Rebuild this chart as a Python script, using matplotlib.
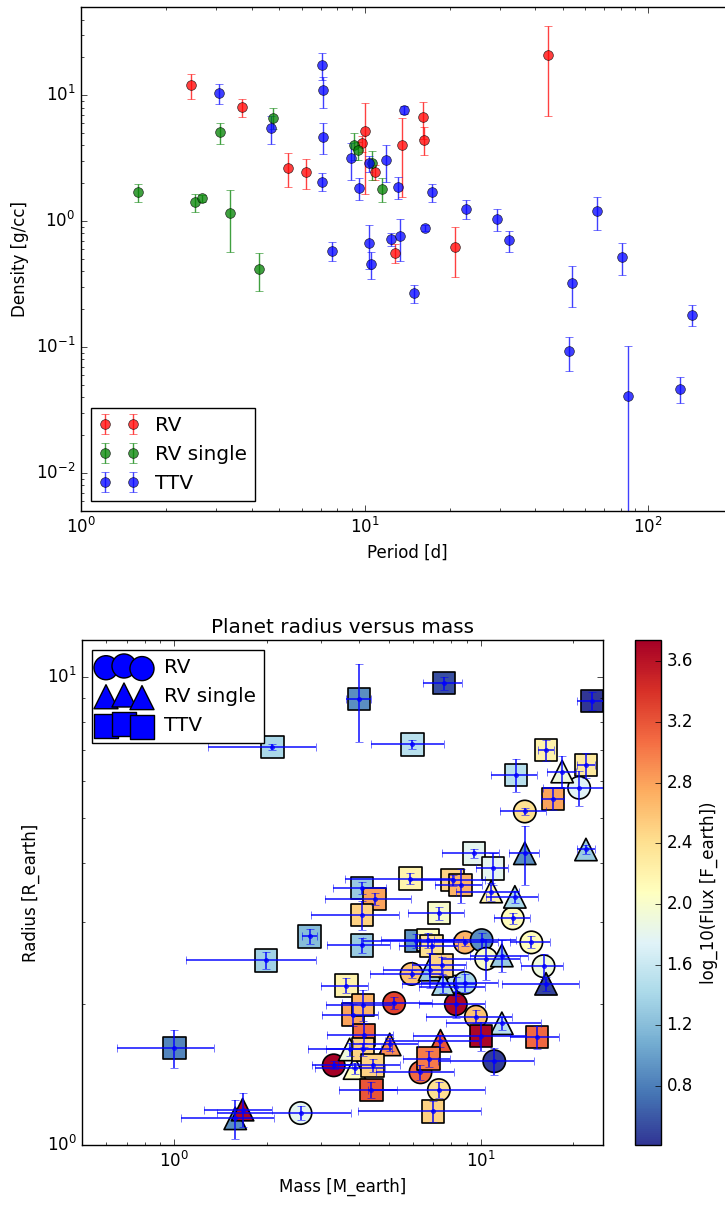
import numpy as np
import matplotlib
matplotlib.use("Agg")
import matplotlib.pyplot as plt
from matplotlib.colors import Normalize
from matplotlib.ticker import NullFormatter

plt.style.use('classic')
plt.rcParams['figure.facecolor'] = 'white'
plt.rcParams['savefig.facecolor'] = 'white'
plt.rcParams['mathtext.fontset'] = 'dejavusans'

# --- densidade x periodo (painel de cima) ---
rv_period = [2.44, 3.71, 5.39, 6.23, 10.06, 9.78, 10.9, 13.56, 16.1, 16.2, 44.5, 20.9, 12.8]
rv_density = [12.1, 8.09, 2.66, 2.47, 5.19, 4.15, 2.47, 4.07, 6.7, 4.46, 21.1, 0.63, 0.565]
rv_density_err = [2.8, 1.35, 0.8, 0.66, 3.55, 0.6, 0.33, 2.5, 2.2, 1.1, 14.2, 0.27, 0.1]

rvs_period = [1.59, 2.52, 2.67, 3.10, 3.35, 4.75, 4.26, 9.18, 9.46, 10.6, 11.5]
rvs_density = [1.71, 1.42, 1.52, 5.09, 1.17, 6.66, 0.42, 4.05, 3.67, 2.88, 1.81]
rvs_density_err = [0.28, 0.24, 0.1, 0.95, 0.6, 1.3, 0.14, 1.0, 0.6, 0.75, 0.4]

ttv_period = [3.07, 4.67, 7.10, 7.16, 7.16, 7.10, 13.8, 8.94, 10.4, 11.9, 9.59, 13.1,
              17.3, 22.7, 29.3, 32.2, 65.9, 16.3, 7.66, 10.35, 10.5, 12.4, 13.3, 14.9,
              54.1, 81, 143, 52.4, 85, 130]
ttv_density = [10.4, 5.52, 17.4, 10.95, 4.71, 2.07, 7.66, 3.16, 2.88, 3.04, 1.85, 1.88,
               1.71, 1.26, 1.04, 0.708, 1.21, 0.89, 0.584, 0.678, 0.457, 0.72, 0.76, 0.268,
               0.323, 0.52, 0.181, 0.093, 0.041, 0.047]
ttv_density_err = [1.9, 1.4, 4.2, 3.0, 1.28, 0.33, 0.5, 1.02, 0.4, 0.98, 0.37, 0.38,
                   0.28, 0.22, 0.21, 0.135, 0.36, 0.05, 0.1, 0.26, 0.11, 0.08, 0.28, 0.044,
                   0.116, 0.148, 0.034, 0.028, 0.061, 0.011]

# --- raio x massa (painel de baixo) ---
rv_mass = [3.31, 2.58, 20.9, 13.9, 12.7, 8.87, 10.05, 14.6, 10.4, 16.0, 5.94, 8.28,
           8.87, 8.28, 5.21, 9.63, 11.05, 6.35, 7.29]
rv_mass_err = [0.5, 1.2, 5.0, 2.4, 1.7, 2.5, 3.0, 2.2, 3.0, 2.5, 1.6, 2.0,
               2.5, 2.0, 1.7, 3.0, 3.8, 1.8, 3.0]
rv_radius = [1.48, 1.17, 5.80, 5.16, 3.05, 2.71, 2.74, 2.71, 2.50, 2.41, 2.32, 2.18,
             2.22, 2.00, 2.01, 1.88, 1.51, 1.43, 1.31]
rv_radius_err = [0.03, 0.04, 0.5, 0.1, 0.08, 0.05, 0.1, 0.08, 0.25, 0.15, 0.05, 0.1,
                 0.1, 0.13, 0.06, 0.06, 0.1, 0.05, 0.05]
rv_logflux = [3.74, 1.8, 1.75, 2.4, 2.1, 2.7, 0.9, 2.1, 2.0, 1.9, 2.6, 1.5,
              1.4, 3.7, 3.3, 2.6, 0.45, 3.1, 2.4]

rvs_mass = [18.4, 13.9, 22.0, 10.8, 12.9, 11.7, 16.3, 6.8, 7.53, 11.7, 5.04, 3.73,
            3.87, 7.38, 1.58, 1.67]
rvs_mass_err = [2.0, 1.6, 1.5, 2.5, 2.5, 2.5, 4.6, 2.0, 2.0, 4.0, 1.2, 1.0,
                1.0, 2.5, 0.53, 0.42]
rvs_radius = [6.28, 4.20, 4.28, 3.48, 3.39, 2.54, 2.21, 2.37, 2.21, 1.82, 1.64, 1.60,
              1.46, 1.67, 1.14, 1.19]
rvs_radius_err = [0.5, 0.6, 0.1, 0.15, 0.1, 0.2, 0.08, 0.2, 0.1, 0.06, 0.05, 0.05,
                  0.04, 0.05, 0.11, 0.1]
rvs_logflux = [1.9, 0.9, 1.3, 2.2, 1.4, 1.3, 0.5, 1.3, 1.4, 1.5, 2.9, 1.9,
               2.1, 3.2, 0.9, 3.7]

ttv_mass = [2.09, 4.0, 7.59, 23.0, 5.98, 16.3, 22.0, 13.0, 17.2, 9.49, 10.97, 5.89,
            8.08, 8.58, 4.09, 4.5, 4.09, 4.09, 7.29, 2.76, 1.99, 6.13, 6.73, 6.9,
            7.44, 3.64, 3.83, 4.13, 1.0, 10.0, 15.2, 4.15, 4.13, 4.43, 6.75, 4.39, 6.98]
ttv_mass_err = [0.8, 0.38, 1.1, 2.5, 1.6, 1.0, 1.5, 2.2, 1.5, 2.0, 1.3, 2.3,
                2.2, 1.5, 0.8, 1.4, 1.3, 0.95, 1.5, 0.15, 0.9, 2.0, 2.0, 1.5,
                1.5, 0.64, 0.8, 1.0, 0.35, 4.0, 2.8, 1.0, 1.0, 1.0, 1.2, 0.95, 3.0]
ttv_radius = [7.09, 8.97, 9.70, 8.89, 7.18, 6.98, 6.49, 6.18, 5.49, 4.20, 3.90, 3.71,
              3.68, 3.59, 3.54, 3.35, 3.10, 2.67, 3.13, 2.79, 2.48, 2.73, 2.74, 2.66,
              2.42, 2.19, 1.90, 1.99, 1.61, 1.71, 1.70, 1.72, 1.60, 1.48, 1.53, 1.31, 1.18]
ttv_radius_err = [0.1, 1.7, 0.3, 0.4, 0.15, 0.35, 0.4, 0.5, 0.3, 0.1, 0.3, 0.1,
                  0.1, 0.3, 0.1, 0.1, 0.22, 0.1, 0.1, 0.1, 0.1, 0.1, 0.1, 0.1,
                  0.1, 0.08, 0.1, 0.15, 0.15, 0.12, 0.1, 0.1, 0.05, 0.05, 0.06, 0.05, 0.06]
ttv_logflux = [1.4, 0.9, 0.55, 0.41, 1.5, 2.2, 2.3, 1.5, 2.8, 1.8, 1.8, 2.2,
               2.5, 2.7, 1.3, 2.8, 2.5, 1.3, 2.0, 1.2, 1.35, 0.95, 2.1, 2.4,
               2.5, 2.2, 2.8, 2.7, 0.85, 3.7, 3.1, 3.1, 2.5, 2.5, 3.0, 3.2, 2.5]

cbar_ticks = [0.8, 1.2, 1.6, 2.0, 2.4, 2.8, 3.2, 3.6]

#%%
fig = plt.figure(figsize=(7.25, 12.05), dpi=100)

ax1 = fig.add_axes([0.1117, 0.5759, 0.900, 0.418])
ax1.errorbar(rv_period, rv_density, yerr=rv_density_err, fmt='o', color='r',
             mec='k', ms=7, alpha=0.75, label='RV')
ax1.errorbar(rvs_period, rvs_density, yerr=rvs_density_err, fmt='o', color='g',
             mec='k', ms=7, alpha=0.75, label='RV single')
ax1.errorbar(ttv_period, ttv_density, yerr=ttv_density_err, fmt='o', color='b',
             mec='k', ms=7, alpha=0.75, label='TTV')
ax1.set_xscale('log')
ax1.set_yscale('log')
ax1.set_xlim(1, 200)
ax1.set_ylim(0.005, 50)
ax1.set_xlabel('Period [d]')
ax1.set_ylabel('Density [g/cc]')
ax1.legend(loc='lower left', numpoints=2)

#%%
ax2 = fig.add_axes([0.1131, 0.0498, 0.7186, 0.4191])
norm = Normalize(vmin=0.41, vmax=3.74)
cmap = 'RdYlBu_r'

groups = [
    (rv_mass, rv_mass_err, rv_radius, rv_radius_err, rv_logflux, 'o', 'RV'),
    (rvs_mass, rvs_mass_err, rvs_radius, rvs_radius_err, rvs_logflux, '^', 'RV single'),
    (ttv_mass, ttv_mass_err, ttv_radius, ttv_radius_err, ttv_logflux, 's', 'TTV'),
]
for mass, mass_err, radius, radius_err, logflux, marker, label in groups:
    sc = ax2.scatter(mass, radius, c=logflux, cmap=cmap, norm=norm, marker=marker,
                     s=260, edgecolors='k', linewidths=1.2, zorder=2)
    ax2.errorbar(mass, radius, xerr=mass_err, yerr=radius_err, fmt='.', color='b',
                 ms=6, lw=1.4, alpha=0.75, zorder=3)
    # marcador só para a legenda
    ax2.scatter([], [], c='b', marker=marker, s=300, edgecolors='k', label=label)

ax2.set_xscale('log')
ax2.set_yscale('log')
ax2.set_xlim(0.5, 25)
ax2.set_ylim(1, 12)
ax2.yaxis.set_minor_formatter(NullFormatter())
ax2.xaxis.set_minor_formatter(NullFormatter())
ax2.set_xlabel('Mass [M_earth]')
ax2.set_ylabel('Radius [R_earth]')
ax2.set_title('Planet radius versus mass')
ax2.legend(loc='upper left', scatterpoints=3, handlelength=2.4)

cax = fig.add_axes([0.8759, 0.0498, 0.0359, 0.4191])
cb = fig.colorbar(sc, cax=cax, ticks=cbar_ticks)
cb.set_label('log_10(Flux [F_earth])')

fig.savefig('out.png', dpi=100)
